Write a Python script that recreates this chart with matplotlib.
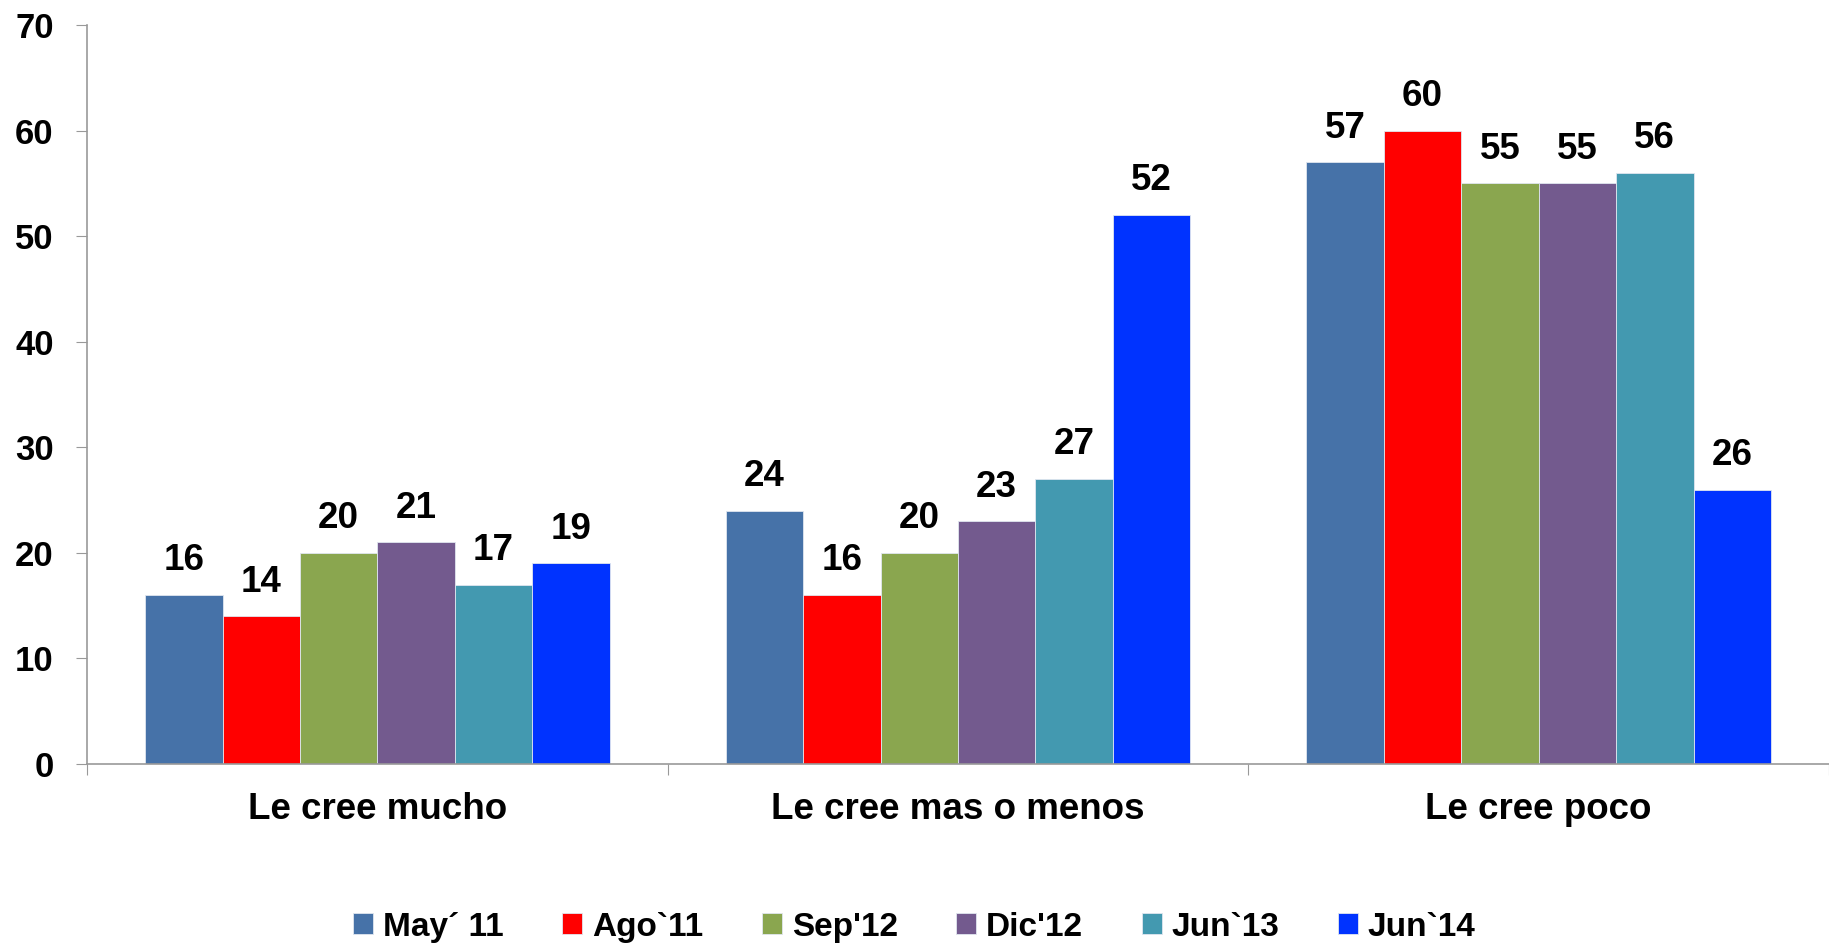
import matplotlib
matplotlib.use('Agg')
import matplotlib.pyplot as plt
import numpy as np

plt.rcParams['font.family'] = ['Liberation Sans', 'DejaVu Sans']
plt.rcParams['font.weight'] = 'bold'

categories = ['Le cree mucho', 'Le cree mas o menos', 'Le cree poco']
series_names = ['May\u00b4 11', 'Ago`11', "Sep'12", "Dic'12", 'Jun`13', 'Jun`14']
may11 = [16, 24, 57]
ago11 = [14, 16, 60]
sep12 = [20, 20, 55]
dic12 = [21, 23, 55]
jun13 = [17, 27, 56]
jun14 = [19, 52, 26]
series = [may11, ago11, sep12, dic12, jun13, jun14]
colors = ['#4672A8', '#FF0000', '#8AA64F', '#735A8E', '#4399B0', '#0033FF']

fig = plt.figure(figsize=(18.29, 9.44), dpi=100)
ax = fig.add_axes([0.0476, 0.1907, 0.9524, 0.7828])

x = np.arange(len(categories))
n = len(series)
w = 0.8 / n
for i, (vals, name, c) in enumerate(zip(series, series_names, colors)):
    pos = x - 0.4 + w * (i + 0.5)
    bars = ax.bar(pos, vals, width=w, color=c, label=name,
                  edgecolor='#e0e6ef', linewidth=0.6)
    for b, v in zip(bars, vals):
        ax.annotate(str(v), (b.get_x() + b.get_width() / 2, v),
                    xytext=(0, 12), textcoords='offset points',
                    ha='center', va='bottom', fontsize=26.5, fontweight='bold')

ax.set_xlim(-0.5, len(categories) - 0.5)
ax.set_ylim(0, 70)
ax.set_yticks(range(0, 71, 10))
ax.tick_params(axis='y', labelsize=25, length=8, color='#999999', pad=16)

ax.set_xticks(np.arange(-0.5, len(categories), 1.0))
ax.set_xticklabels([])
ax.set_xticks(x, minor=True)
ax.set_xticklabels(categories, minor=True)
ax.tick_params(axis='x', which='major', length=8, color='#999999')
ax.tick_params(axis='x', which='minor', length=0, labelsize=26.5, pad=20)

for s in ['top', 'right']:
    ax.spines[s].set_visible(False)
for s in ['left', 'bottom']:
    ax.spines[s].set_color('#999999')
    ax.spines[s].set_linewidth(1.2)

ax.legend(loc='center', bbox_to_anchor=(0.5, 0.018), bbox_transform=fig.transFigure,
          ncol=6, frameon=False, fontsize=24, handlelength=0.6, handleheight=0.6,
          handletextpad=0.3, columnspacing=1.75)

fig.savefig('out.png', dpi=100)
